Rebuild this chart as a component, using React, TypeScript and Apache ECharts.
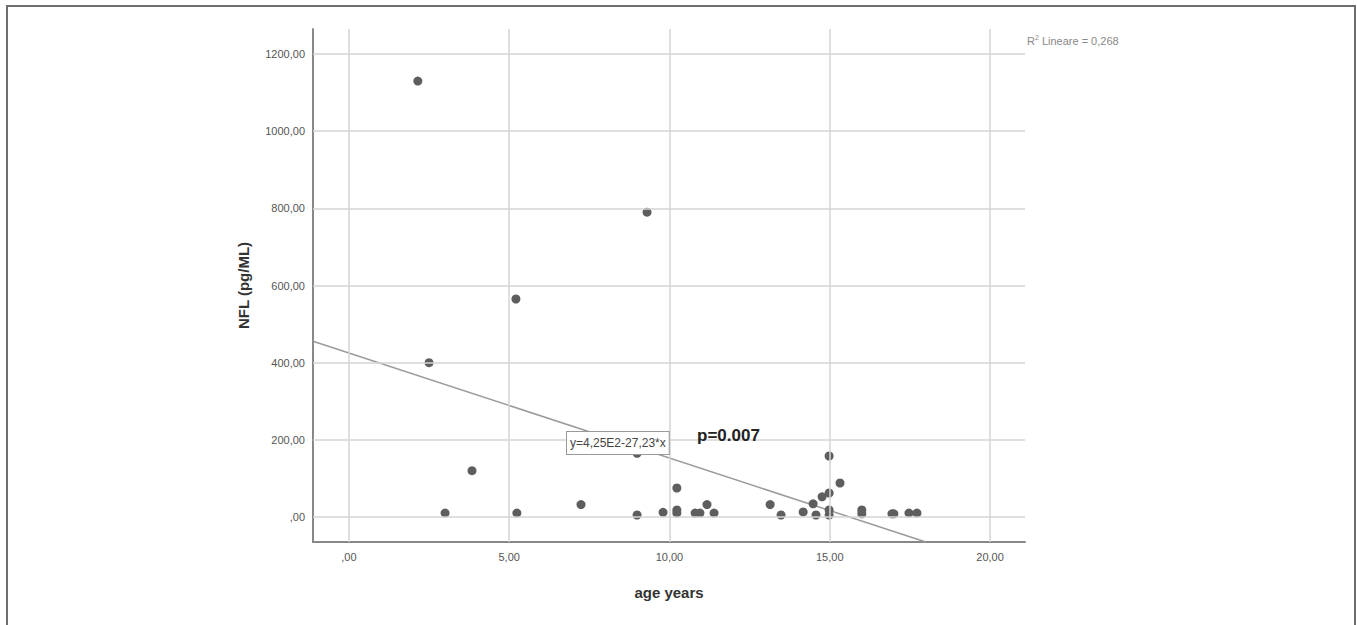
import React, { useEffect, useRef } from "react";
import * as echarts from "echarts";

const ages = [2.15, 2.5, 3.0, 3.84, 5.21, 5.24, 7.24, 8.99, 8.99, 9.3, 9.8, 10.23, 10.23, 10.23, 10.8, 10.95, 11.17, 11.39, 13.14, 13.48, 14.17, 14.48, 14.57, 14.76, 14.98, 14.98, 14.98, 14.98, 15.32, 16.0, 16.0, 16.94, 17.0, 17.47, 17.72];
const nfl = [1130, 400, 10, 120, 565, 10, 32, 5, 165, 790, 12, 75, 18, 10, 10, 10, 32, 10, 32, 5, 13, 34, 5, 52, 62, 158, 18, 5, 88, 18, 8, 8, 8, 10, 10];

const intercept = 425;
const slope = -27.23;
const xMin = -1.12;
const xMax = 21.09;
const yMin = -65;
const yMax = 1265;
const xTicks = [0, 5, 10, 15, 20];
const yTicks = [0, 200, 400, 600, 800, 1000, 1200];

const fmt = (v: number) => (v === 0 ? ",00" : v.toFixed(2).replace(".", ","));
const FONT = "'Liberation Sans', Arial, sans-serif";

export default function App() {
  const ref = useRef<HTMLDivElement>(null);
  useEffect(() => {
    if (!ref.current) return;
    const chart = echarts.init(ref.current, undefined, { renderer: "svg" });
    const xEnd = Math.min(xMax, (intercept - yMin) / -slope);
    const fitLine = [
      [xMin, intercept + slope * xMin],
      [xEnd, intercept + slope * xEnd],
    ];
    const gridStyle = { color: "#d4d4d4", width: 1.5, type: "solid" };
    chart.setOption({
      animation: false,
      backgroundColor: "#ffffff",
      textStyle: { fontFamily: FONT },
      grid: { left: 313, top: 29, right: 332, bottom: 83, containLabel: false },
      xAxis: {
        type: "value",
        min: xMin,
        max: xMax,
        name: "age years",
        nameLocation: "middle",
        nameGap: 43,
        nameTextStyle: { fontSize: 15, fontWeight: "bold", color: "#333", fontFamily: FONT },
        axisLine: { show: true, onZero: false, lineStyle: { color: "#888", width: 2 } },
        axisTick: { show: false, customValues: xTicks },
        axisLabel: {
          color: "#555",
          fontSize: 11,
          margin: 9,
          customValues: xTicks,
          formatter: (v: number) => fmt(v),
        },
        splitLine: { show: false },
      },
      yAxis: {
        type: "value",
        min: yMin,
        max: yMax,
        name: "NFL (pg/ML)",
        nameLocation: "middle",
        nameGap: 62,
        nameTextStyle: { fontSize: 15, fontWeight: "bold", color: "#333", fontFamily: FONT },
        axisLine: { show: true, onZero: false, lineStyle: { color: "#888", width: 2 } },
        axisTick: { show: false, customValues: yTicks },
        axisLabel: {
          color: "#555",
          fontSize: 11,
          margin: 8,
          customValues: yTicks,
          formatter: (v: number) => fmt(v),
        },
        splitLine: { show: false },
      },
      series: [
        {
          type: "line",
          data: [],
          silent: true,
          z: 1,
          markLine: {
            silent: true,
            symbol: "none",
            label: { show: false },
            lineStyle: gridStyle,
            emphasis: { disabled: true },
            data: [
              ...xTicks.map((v) => ({ xAxis: v })),
              ...yTicks.map((v) => ({ yAxis: v })),
            ],
          },
        },
        {
          type: "line",
          data: fitLine,
          symbol: "none",
          clip: true,
          lineStyle: { color: "#9a9a9a", width: 1.5 },
          silent: true,
          z: 2,
        },
        {
          type: "scatter",
          data: ages.map((a, i) => [a, nfl[i]]),
          symbol: "circle",
          symbolSize: 9,
          itemStyle: { color: "#5e5e5e", opacity: 1 },
          z: 3,
        },
      ],
      graphic: [
        {
          type: "rect",
          shape: { x: 7, y: 6, width: 1348, height: 700 },
          style: { fill: "none", stroke: "#6e6e6e", lineWidth: 2 },
          silent: true,
        },
        {
          type: "text",
          left: 566,
          top: 431,
          z: 10,
          style: {
            text: "y=4,25E2-27,23*x",
            fontSize: 12,
            fontFamily: FONT,
            fill: "#444",
            backgroundColor: "#ffffff",
            borderColor: "#999",
            borderWidth: 1,
            padding: [5, 3, 5, 3],
          },
        },
        {
          type: "text",
          left: 697,
          top: 427,
          z: 10,
          style: {
            text: "p=0.007",
            fontSize: 17,
            fontWeight: "bold",
            fontFamily: FONT,
            fill: "#222",
          },
        },
        {
          type: "text",
          left: 1027,
          top: 34,
          z: 10,
          style: {
            text: "{a|R}{s|2}{a| Lineare = 0,268}",
            rich: {
              a: { fontSize: 11, fill: "#888", fontFamily: FONT, verticalAlign: "bottom" },
              s: { fontSize: 7, fill: "#888", fontFamily: FONT, verticalAlign: "top", padding: [0, 0, 5, 0] },
            },
          },
        },
      ],
    });
    return () => chart.dispose();
  }, []);
  return (
    <div
      ref={ref}
      style={{ position: "fixed", left: 0, top: 0, width: 1357, height: 625, background: "#fff" }}
    />
  );
}
